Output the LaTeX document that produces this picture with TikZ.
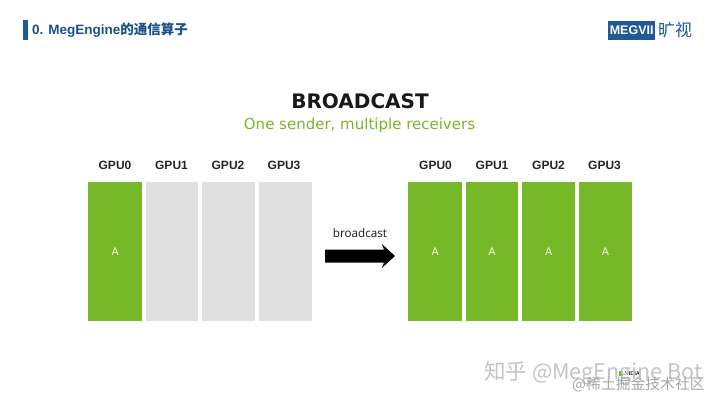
\documentclass[tikz,border=0pt]{standalone}
\usepackage{fontspec}
\setmainfont{Liberation Sans}
\newfontfamily\cjk{Noto Sans CJK SC}
\newfontfamily\cjkb{Noto Sans CJK SC Bold}
\newfontfamily\dv{DejaVu Sans}
\newfontfamily\vs{Open Sans}
\definecolor{nvgreen}{HTML}{76B828}
\definecolor{cellgrey}{HTML}{E0E0E0}
\definecolor{megblue}{HTML}{1F5A96}
\definecolor{wm}{HTML}{C4C4C4}
\newcommand{\cellA}{\raisebox{-1.5pt}{A}}
\begin{document}
\begin{tikzpicture}[x=1pt,y=-1pt,
  cell/.style={draw=none,minimum height=139pt,inner sep=0pt,font=\fontsize{10.5}{12}\selectfont\dv,text=white!90!nvgreen,anchor=north west},
  on/.style={cell,fill=nvgreen},
  off/.style={cell,fill=cellgrey},
  gpu/.style={font=\fontsize{12}{14}\selectfont\bfseries,text=black!85,inner sep=0pt}]
\useasboundingbox (0,0) rectangle (720,405);
\fill[white] (0,0) rectangle (720,405);
% header
\fill[megblue] (23,19.5) rectangle (27.5,39.5);
\node[anchor=west,inner sep=0pt,text=megblue!90!black,font=\fontsize{13.5}{15}\selectfont\bfseries] (head) at (32,30) {0. MegEngine{\cjkb 的通信算子}};
% logo
\node[fill=megblue,text=white,inner sep=0pt,minimum width=47pt,minimum height=19pt,font=\fontsize{12.5}{14}\selectfont\bfseries,anchor=west] (logo) at (608,30) {MEGVII};
\node[anchor=west,inner sep=0pt,text=megblue,font=\fontsize{17}{18}\selectfont\cjk] (logot) at (658,30) {旷视};
% title
\node[inner sep=0pt,font=\fontsize{20}{24}\selectfont\bfseries\dv,text=black!90] (title) at (360,101.5) {BROADCAST};
\node[inner sep=0pt,font=\fontsize{15}{17}\selectfont\dv,text=nvgreen] (sub) at (359.5,125) {One sender, multiple receivers};
% left
\node[gpu] (l0t) at (115,165) {GPU0};
\node[gpu] (l1t) at (171.5,165) {GPU1};
\node[gpu] (l2t) at (228,165) {GPU2};
\node[gpu] (l3t) at (284,165) {GPU3};
\node[on,minimum width=54pt] (l0) at (88,182) {\cellA};
\node[off,minimum width=52.5pt] (l1) at (145.5,182) {};
\node[off,minimum width=53pt] (l2) at (202,182) {};
\node[off,minimum width=53pt] (l3) at (258.5,182) {};
% right
\node[gpu] (r0t) at (435.5,165) {GPU0};
\node[gpu] (r1t) at (492,165) {GPU1};
\node[gpu] (r2t) at (548.5,165) {GPU2};
\node[gpu] (r3t) at (604.5,165) {GPU3};
\node[on,minimum width=54pt] (r0) at (408,182) {\cellA};
\node[on,minimum width=52.5pt] (r1) at (465.5,182) {\cellA};
\node[on,minimum width=53pt] (r2) at (522,182) {\cellA};
\node[on,minimum width=53.5pt] (r3) at (578.5,182) {\cellA};
% arrow
\node[inner sep=0pt,font=\fontsize{11.7}{14}\selectfont\vs,text=black!90] (blab) at (360,233) {broadcast};
\fill[black] (325,249.5) -- (384,249.5) -- (382,244) -- (395,256) -- (382,268) -- (384,262.5) -- (325,262.5) -- cycle;
% faint logo under the watermarks
\fill[nvgreen] (619,371) rectangle (623,376);
\node[anchor=west,inner sep=0pt,text=black!85,font=\fontsize{5.5}{6}\selectfont\bfseries] (nv) at (625,373.5) {VIDIA};
% watermarks
\node[anchor=west,inner sep=0pt,text=wm,font=\fontsize{21.5}{24}\selectfont\cjk] (wm1) at (484,373) {知乎 @MegEngine Bot};
\node[anchor=west,inner sep=0pt,text=wm!85!black,font=\fontsize{14.8}{17}\selectfont\cjk] (wm2) at (572,384) {@稀土掘金技术社区};
\end{tikzpicture}
\end{document}
